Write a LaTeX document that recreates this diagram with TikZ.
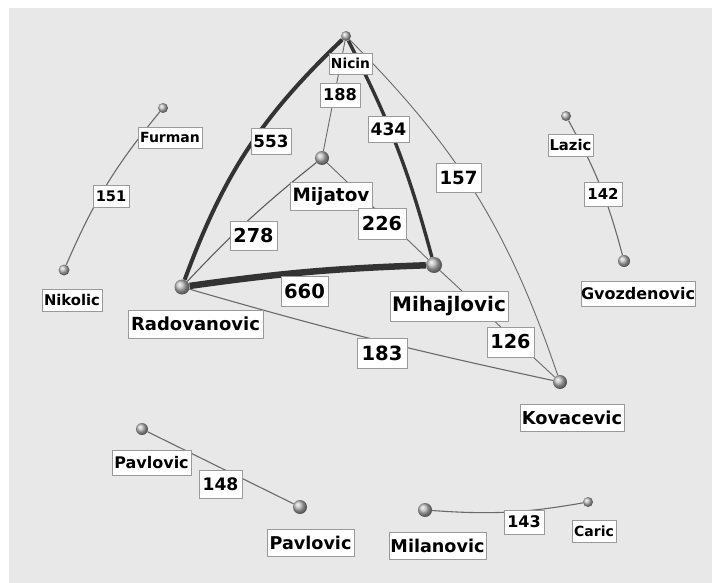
\documentclass[tikz,border=0pt]{standalone}
\usepackage{fontspec}
\setmainfont{DejaVu Sans}
\definecolor{bgc}{HTML}{E8E8E8}
\definecolor{thick}{HTML}{333333}
\definecolor{thin}{HTML}{6A6A6A}
\definecolor{boxb}{HTML}{9A9A9A}
\pgfdeclarelayer{bglayer}
\pgfdeclarelayer{edgelayer}
\pgfsetlayers{bglayer,edgelayer,main}
\tikzset{
  ballnode/.style={circle, inner sep=0pt, minimum size=#1, shading=ball, ball color=gray!55},
  lbl/.style n args={3}{draw=boxb, line width=0.8pt, fill=white, inner sep=0pt,
    minimum width=#1, minimum height=#2, font=\fontsize{#3}{#3}\selectfont\bfseries},
  thinedge/.style={draw=thin, line width=0.9pt},
  darkedge/.style={draw=thick, line width=#1},
}
\begin{document}
\begin{tikzpicture}[x=1pt,y=-1pt]
\useasboundingbox (0,0) rectangle (712,583);
\begin{pgfonlayer}{bglayer}
\fill[bgc] (9,8) rectangle (712,583);
\end{pgfonlayer}

% vertices
\node[ballnode=10] (nicin) at (346,36) {};
\node[ballnode=14] (mijatov) at (322,158) {};
\node[ballnode=15] (radov) at (182,287) {};
\node[ballnode=16] (mihaj) at (434,265) {};
\node[ballnode=14] (kovac) at (560,382) {};
\node[ballnode=10] (furman) at (163,108) {};
\node[ballnode=11] (nikolic) at (64,270) {};
\node[ballnode=10] (lazic) at (566,116) {};
\node[ballnode=12] (gvozd) at (624,261) {};
\node[ballnode=12] (pavA) at (142,429) {};
\node[ballnode=14] (pavB) at (300,507) {};
\node[ballnode=14] (milan) at (425,510) {};
\node[ballnode=10] (caric) at (588,502) {};

% edges
\begin{pgfonlayer}{edgelayer}
\draw[darkedge=4pt] (radov) to[bend left=13] (nicin);
\draw[darkedge=3.4pt] (nicin) to[bend left=6] (mihaj);
\draw[darkedge=6.5pt] (radov) to[bend left=3] (mihaj);
\draw[thinedge] (nicin) to[bend left=13] (kovac);
\draw[thinedge] (nicin) -- (mijatov);
\draw[darkedge=1.1pt, draw=thick!80] (mijatov) to[bend right=4] (radov);
\draw[thinedge] (mijatov) -- (mihaj);
\draw[thinedge, line width=1.1pt] (radov) to[bend right=2] (kovac);
\draw[thinedge] (mihaj) -- (kovac);
\draw[thinedge, line width=1.1pt] (furman) to[bend right=8] (nikolic);
\draw[thinedge, line width=1.1pt] (lazic) to[bend left=7] (gvozd);
\draw[thinedge, line width=1.1pt] (pavA) -- (pavB);
\draw[thinedge, line width=1.1pt] (milan) to[bend right=7] (caric);
\end{pgfonlayer}

% vertex labels
\node[lbl={43}{21}{13.8}] (lnicin) at (350.5,63.5) {Nicin};
\node[lbl={82}{28}{18.4}] (lmijatov) at (331,196) {Mijatov};
\node[lbl={135}{28}{18}] (lradov) at (195.5,324) {Radovanovic};
\node[lbl={118}{30}{20}] (lmihaj) at (449,306) {Mihajlovic};
\node[lbl={104}{27}{17.8}] (lkovac) at (572,417.5) {Kovacevic};
\node[lbl={64}{21}{14}] (lfurman) at (170,137.5) {Furman};
\node[lbl={60}{22}{14.8}] (lnikolic) at (72,300) {Nikolic};
\node[lbl={45}{22}{14.8}] (llazic) at (570.5,145) {Lazic};
\node[lbl={114}{25}{16}] (lgvozd) at (638,293.5) {Gvozdenovic};
\node[lbl={79}{25}{16}] (lpavA) at (151.5,462.5) {Pavlovic};
\node[lbl={87}{27}{17.6}] (lpavB) at (310.5,542.5) {Pavlovic};
\node[lbl={97}{27}{17.6}] (lmilan) at (437.5,545.5) {Milanovic};
\node[lbl={44}{22}{14}] (lcaric) at (594,531) {Caric};

% edge labels
\node[lbl={40}{24}{16.2}] (e188) at (340,95) {188};
\node[lbl={41}{26}{17.2}] (e434) at (388.5,129) {434};
\node[lbl={40}{26}{16.8}] (e553) at (271,141) {553};
\node[lbl={45}{29}{18.2}] (e157) at (458.5,177.5) {157};
\node[lbl={48}{31}{19.2}] (e226) at (382,223.5) {226};
\node[lbl={47}{29}{19.2}] (e278) at (253.5,235.5) {278};
\node[lbl={47}{30}{19.6}] (e660) at (304.5,291) {660};
\node[lbl={47}{30}{19.2}] (e126) at (510.5,342) {126};
\node[lbl={50}{30}{19.6}] (e183) at (382,353) {183};
\node[lbl={36}{22}{14.6}] (e151) at (111,196) {151};
\node[lbl={38}{24}{15}] (e142) at (603,194) {142};
\node[lbl={43}{28}{17.2}] (e148) at (220.5,484) {148};
\node[lbl={40}{24}{16}] (e143) at (524,522) {143};
\end{tikzpicture}
\end{document}
